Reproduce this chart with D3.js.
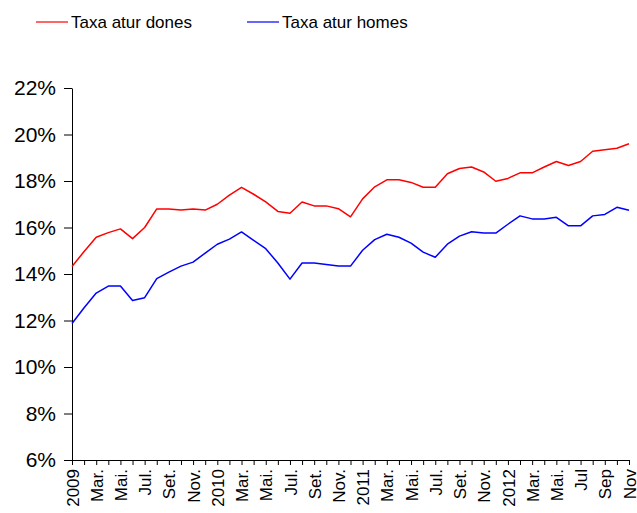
<!DOCTYPE html>
<html>
<head>
<meta charset="utf-8">
<script src="https://cdn.jsdelivr.net/npm/d3@7"></script>
<style>
  body { margin: 0; background: #fff; }
  svg { display: block; font-family: "Liberation Sans", Arial, sans-serif; }
</style>
</head>
<body>
<div id="chart"></div>
<script>
// months Jan 2009 .. Nov 2012
const months = [
  "2009-01","2009-02","2009-03","2009-04","2009-05","2009-06","2009-07","2009-08","2009-09","2009-10","2009-11","2009-12",
  "2010-01","2010-02","2010-03","2010-04","2010-05","2010-06","2010-07","2010-08","2010-09","2010-10","2010-11","2010-12",
  "2011-01","2011-02","2011-03","2011-04","2011-05","2011-06","2011-07","2011-08","2011-09","2011-10","2011-11","2011-12",
  "2012-01","2012-02","2012-03","2012-04","2012-05","2012-06","2012-07","2012-08","2012-09","2012-10","2012-11"
];
const tickLabels = [
  "2009","Mar.","Mai.","Jul.","Set.","Nov.",
  "2010","Mar.","Mai.","Jul.","Set.","Nov.",
  "2011","Mar.","Mai.","Jul.","Set.","Nov.",
  "2012","Mar.","Mai.","Jul","Sep","Nov"
];
const yTicks = [6, 8, 10, 12, 14, 16, 18, 20, 22];

const dones = [
  14.32, 14.97, 15.58, 15.78, 15.94, 15.52, 16.0, 16.8, 16.8, 16.75, 16.8, 16.75,
  17.0, 17.39, 17.73, 17.43, 17.1, 16.69, 16.61, 17.1, 16.93, 16.93, 16.81, 16.46,
  17.23, 17.75, 18.05, 18.05, 17.94, 17.73, 17.73, 18.31, 18.54, 18.6, 18.39, 17.99,
  18.11, 18.35, 18.35, 18.6, 18.84, 18.67, 18.84, 19.28, 19.34, 19.41, 19.6
];
const homes = [
  11.87, 12.55, 13.18, 13.48, 13.48, 12.86, 12.98, 13.8, 14.08, 14.34, 14.51, 14.9,
  15.28, 15.5, 15.81, 15.45, 15.09, 14.47, 13.78, 14.47, 14.47, 14.41, 14.34, 14.34,
  15.02, 15.48, 15.71, 15.58, 15.33, 14.94, 14.72, 15.28, 15.63, 15.82, 15.76, 15.76,
  16.14, 16.5, 16.37, 16.37, 16.44, 16.07, 16.07, 16.5, 16.56, 16.87, 16.74
];

const series = [
  { name: "Taxa atur dones", values: dones, color: "#ff0000" },
  { name: "Taxa atur homes", values: homes, color: "#0000ff" }
];

const width = 637, height = 513;
const plot = { left: 72, right: 629, top: 88, bottom: 460 };

const svg = d3.select("#chart")
  .append("svg")
  .attr("width", width)
  .attr("height", height);

const x = d3.scalePoint()
  .domain(months)
  .range([plot.left, plot.right]);

const y = d3.scaleLinear()
  .domain([6, 22])
  .range([plot.bottom, plot.top]);

// y axis
const yAxis = svg.append("g")
  .attr("transform", `translate(${plot.left},0)`)
  .call(d3.axisLeft(y).tickValues(yTicks).tickFormat(d => d + "%").tickSize(8).tickSizeOuter(0).tickPadding(8));
yAxis.selectAll("text")
  .style("font-size", "21px")
  .style("fill", "#000");
yAxis.selectAll("line, path").attr("stroke", "#000");

// x axis
const xAxis = svg.append("g")
  .attr("transform", `translate(0,${plot.bottom})`)
  .call(d3.axisBottom(x).tickSize(5).tickSizeOuter(0)
    .tickFormat((d, i) => i % 2 === 0 ? tickLabels[i / 2] : ""));
xAxis.selectAll("line, path").attr("stroke", "#000");
xAxis.selectAll("text")
  .attr("transform", "rotate(-90)")
  .attr("text-anchor", "end")
  .attr("x", -9)
  .attr("y", 0)
  .attr("dy", "0.36em")
  .style("font-size", "17px")
  .style("fill", "#000");

// lines
const line = d3.line()
  .x((d, i) => x(months[i]))
  .y(d => y(d));

svg.selectAll("path.series")
  .data(series)
  .enter()
  .append("path")
  .attr("class", "series")
  .attr("d", d => line(d.values))
  .attr("fill", "none")
  .attr("stroke", d => d.color)
  .attr("stroke-width", 1.5)
  .attr("stroke-linejoin", "round");

// legend
const legendX = [36, 247];
const legend = svg.selectAll("g.legend")
  .data(series)
  .enter()
  .append("g")
  .attr("class", "legend")
  .attr("transform", (d, i) => `translate(${legendX[i]},22)`);
legend.append("line")
  .attr("x1", 0).attr("x2", 32)
  .attr("y1", 0).attr("y2", 0)
  .attr("stroke", d => d.color)
  .attr("stroke-width", 1.2);
legend.append("text")
  .attr("x", 35)
  .attr("y", 6)
  .style("font-size", "17px")
  .style("fill", "#000")
  .text(d => d.name);
</script>
</body>
</html>
